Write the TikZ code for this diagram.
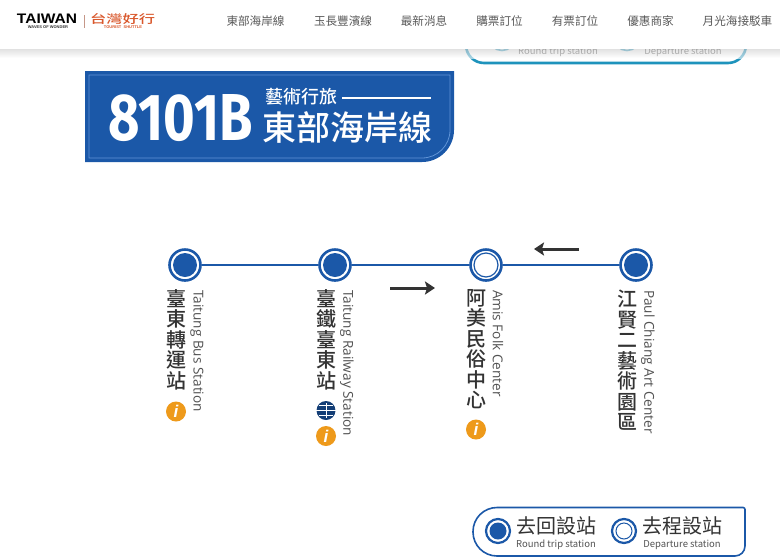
\documentclass[tikz,border=0pt]{standalone}
\usepackage{fontspec}
\setmainfont{Open Sans}
\newfontfamily\cjk{Noto Sans CJK TC}
\newfontfamily\cjkm{Noto Sans CJK TC Medium}
\newfontfamily\codefont{Fira Sans}
\newfontfamily\lat{Liberation Sans}
\definecolor{routeblue}{HTML}{1B58A8}
\definecolor{bannerline}{HTML}{5F93D6}
\definecolor{teal}{HTML}{1E93BC}
\definecolor{navgray}{HTML}{595959}
\definecolor{orangei}{HTML}{EE9A1B}
\definecolor{brand}{HTML}{D9572B}
\definecolor{darktext}{HTML}{333333}
\usetikzlibrary{arrows.meta,shadings}
\tikzset{
  x=1pt,y=-1pt,
  navitem/.style={font=\cjk\fontsize{11.6}{12}\selectfont,text=navgray,inner sep=0pt},
  zhname/.style={font=\cjkm\fontsize{20}{20.5}\selectfont,text=darktext,align=center,anchor=north,inner sep=0pt},
  enname/.style={font=\fontsize{13.6}{14}\selectfont,text=darktext!85!white,rotate=-90,anchor=west,inner sep=0pt},
  ringst/.style={circle,draw=routeblue,line width=2.6pt,fill=white,minimum size=31pt,inner sep=0pt},
  corefill/.style={circle,fill=routeblue,minimum size=24pt,inner sep=0pt},
  coreopen/.style={circle,draw=routeblue,line width=1.2pt,fill=white,minimum size=24pt,inner sep=0pt},
  infoicon/.style={circle,fill=orangei,minimum size=20pt,inner sep=0pt,text=white,font=\lat\bfseries\itshape\fontsize{17}{17}\selectfont},
  route/.style={draw=routeblue,line width=2.6pt},
  dirarrow/.style={draw=darktext,line width=3pt,-{Stealth[length=10pt,width=13pt,inset=2pt]}},
  legzh/.style={font=\cjk\fontsize{20}{20}\selectfont,text=darktext,inner sep=0pt},
  legen/.style={font=\cjk\fontsize{9.5}{10}\selectfont,text=darktext!85!white,inner sep=0pt},
}
\begin{document}
\begin{tikzpicture}
\useasboundingbox (0,0) rectangle (780,558);
\fill[white] (0,0) rectangle (780,558);
% upper legend, mostly hidden by the header
\draw[teal,line width=2.6pt,rounded corners=18pt] (466,20) -- (466,63) -- (746,63) -- (746,20);
\draw[teal!80,line width=1.6pt] (502,37.5) circle[radius=13];
\draw[teal!80,line width=1.6pt] (627,37.5) circle[radius=13];
\node[legen,text=darktext!80!white] (u1) at (558,52) {Round trip station};
\node[legen,text=darktext!80!white] (u2) at (683,52) {Departure station};
% header
\fill[white] (0,0) rectangle (780,49);
\shade[top color=black!18,bottom color=black!0,opacity=.6] (0,49.5) rectangle (780,58);
\node[inner sep=0pt,text=black] (logo) at (47,19) {\resizebox{60pt}{9.5pt}{\lat\bfseries TAIWAN}};
\node[inner sep=0pt,font=\lat\bfseries\fontsize{4}{4}\selectfont,text=black!80] (logosub) at (48,27) {WAVES OF WONDER};
\draw[brand!50!gray!70,line width=.7pt] (84,15) -- (84,28);
\node[inner sep=0pt,text=brand] (brandzh) at (122.5,19) {\resizebox*{65pt}{11pt}{\cjkm 台灣好行}};
\node[inner sep=0pt,font=\lat\bfseries\fontsize{4}{4}\selectfont,text=brand] (brandsub) at (123,27) {TOURIST\ \ SHUTTLE};
\node[navitem] (n1) at (255.5,21) {東部海岸線};
\node[navitem] (n2) at (343,21) {玉長豐濱線};
\node[navitem] (n3) at (424,21) {最新消息};
\node[navitem] (n4) at (499.5,21) {購票訂位};
\node[navitem] (n5) at (575,21) {有票訂位};
\node[navitem] (n6) at (650.5,21) {優惠商家};
\node[navitem] (n7) at (737.5,21) {月光海接駁車};
% banner
\fill[routeblue] (85,71) -- (454,71) [rounded corners=32pt] -- (454,162) [sharp corners] -- (85,162) -- cycle;
\draw[bannerline,line width=.8pt] (89,75) -- (450,75) [rounded corners=28pt] -- (450,158) [sharp corners] -- (89,158) -- cycle;
\node[inner sep=0pt,text=white] (code) at (181,118.5) {\resizebox{144pt}{46pt}{\codefont\bfseries 8101B}};
\node[inner sep=0pt,anchor=west,font=\cjkm\fontsize{18}{18}\selectfont,text=white] (tag) at (265,96.5) {藝術行旅};
\coordinate (tagend) at (431,98);
\draw[white,line width=1.2pt] ([xshift=5pt]tag.east|-tagend) -- (tagend);
\node[inner sep=0pt,anchor=west,font=\cjkm\fontsize{34}{34}\selectfont,text=white] (title) at (262,127.5) {東部海岸線};
% route
\node[ringst] (s1) at (185,265) {};
\node[ringst] (s2) at (335,265) {};
\node[ringst] (s3) at (486,265) {};
\node[ringst] (s4) at (636,265) {};
\draw[route] (s1) -- (s2);
\draw[route] (s2) -- (s3);
\draw[route] (s3) -- (s4);
\node[corefill] at (s1) {};
\node[corefill] at (s2) {};
\node[coreopen] at (s3) {};
\node[corefill] at (s4) {};
% direction arrows
\coordinate (ra) at (390,288); \coordinate (rb) at (435,288);
\coordinate (la) at (579,249); \coordinate (lb) at (534,249);
\draw[dirarrow] (ra) -- (rb);
\draw[dirarrow] (la) -- (lb);
% station names
\node[zhname] (z1) at (176,289) {臺\\東\\轉\\運\\站};
\node[zhname] (z2) at (326,289) {臺\\鐵\\臺\\東\\站};
\node[zhname] (z3) at (476,289) {阿\\美\\民\\俗\\中\\心};
\node[zhname] (z4) at (627,290) {江\\賢\\二\\藝\\術\\園\\區};
\node[enname] (e1) at (197,290) {Taitung Bus Station};
\node[enname] (e2) at (347,290) {Taitung Railway Station};
\node[enname] (e3) at (498,290) {Amis Folk Center};
\node[enname] (e4) at (648,290) {Paul Chiang Art Center};
% icons
\node[infoicon] (i1) at (176,411.5) {\textit{i}};
\node[infoicon] (i2) at (326,436) {\textit{i}};
\node[infoicon] (i3) at (476,429.5) {\textit{i}};
\node[circle,fill=routeblue!70!black,minimum size=19pt,inner sep=0pt] (tra) at (326,410.5) {};
\draw[white,line width=1.1pt] (tra.west) -- (tra.east);
\draw[white,line width=1pt] (319,405.5) -- (333,405.5);
\draw[white,line width=1pt] (319,415.5) -- (333,415.5);
\draw[white,line width=1pt] (326,403) -- (326,418);
% legend
\draw[routeblue,line width=1.6pt,fill=white] (600,507.5) [rounded corners=2pt] -- (745,507.5) [rounded corners=10pt] -- (745,556) [rounded corners=24pt] -- (473,556) -- (473,507.5) [sharp corners] -- cycle;
\node[circle,draw=routeblue,line width=2.2pt,fill=white,minimum size=24pt,inner sep=0pt] (lg1) at (498,531) {};
\node[corefill,minimum size=17pt] at (lg1) {};
\node[circle,draw=routeblue,line width=2.2pt,fill=white,minimum size=24pt,inner sep=0pt] (lg2) at (624,531) {};
\node[circle,draw=routeblue,line width=1pt,fill=white,minimum size=16pt,inner sep=0pt] at (lg2) {};
\node[legzh] (l1) at (556,526) {去回設站};
\node[legzh] (l2) at (682,526) {去程設站};
\node[legen] (l3) at (556,544.5) {Round trip station};
\node[legen] (l4) at (682,544.5) {Departure station};
\end{tikzpicture}
\end{document}
